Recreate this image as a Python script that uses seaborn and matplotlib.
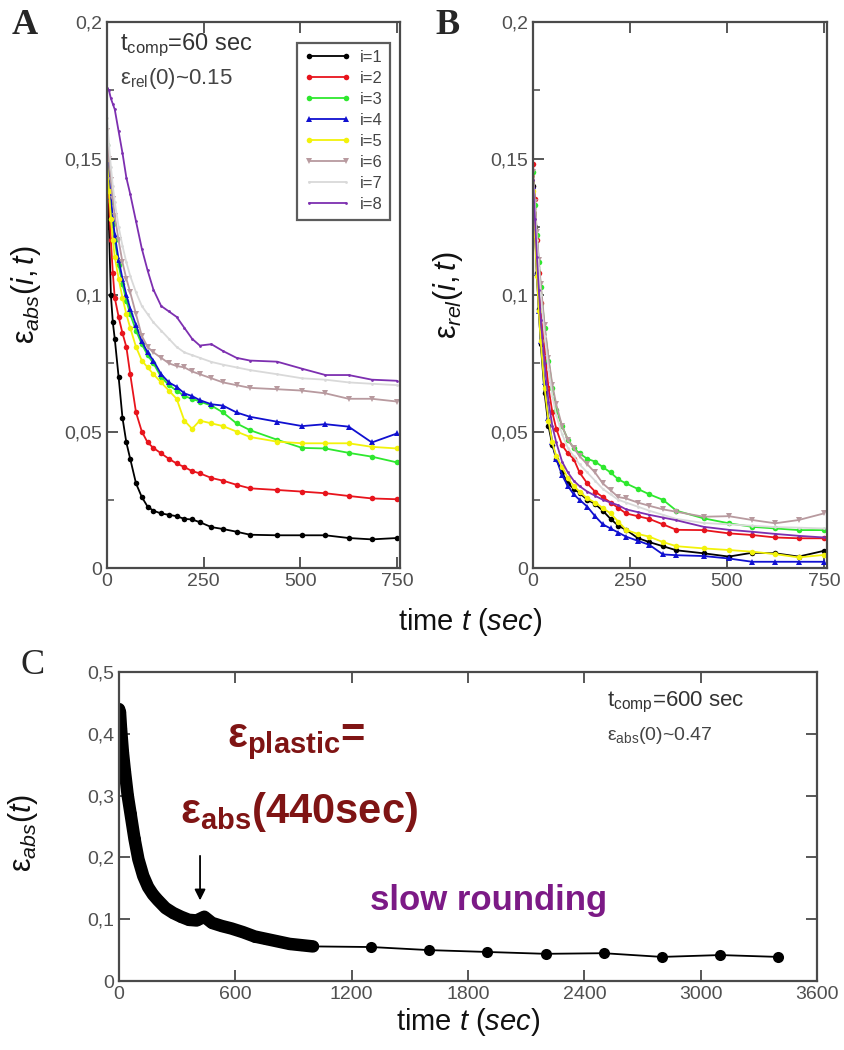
import numpy as np
import pandas as pd
import matplotlib
matplotlib.use("Agg")
import matplotlib.pyplot as plt
import seaborn as sns
from matplotlib import font_manager
from matplotlib.ticker import FuncFormatter, MultipleLocator

# temps (s) communs aux panneaux A et B
TIME = [0, 5, 10, 15, 20, 30, 40, 50, 60, 75, 90, 105, 120, 140, 160, 180, 200,
        220, 240, 270, 300, 335, 370, 440, 505, 565, 625, 685, 750]

# panneau A : eps_abs(i,t)
A_I1 = [0.150, 0.125, 0.100, 0.090, 0.084, 0.070, 0.055, 0.046, 0.040, 0.031, 0.026, 0.0225, 0.021, 0.020, 0.0195,
        0.019, 0.018, 0.0178, 0.0168, 0.015, 0.0143, 0.0133, 0.0122, 0.012, 0.012, 0.012, 0.011, 0.0105, 0.011]
A_I2 = [0.150, 0.135, 0.120, 0.108, 0.099, 0.092, 0.086, 0.081, 0.071, 0.057, 0.050, 0.046, 0.044, 0.042, 0.040,
        0.0383, 0.037, 0.0355, 0.0347, 0.033, 0.032, 0.0305, 0.0292, 0.0286, 0.028, 0.0274, 0.0264, 0.0255, 0.0252]
A_I3 = [0.155, 0.143, 0.134, 0.126, 0.120, 0.111, 0.104, 0.098, 0.093, 0.087, 0.082, 0.078, 0.075, 0.070, 0.067,
        0.065, 0.063, 0.062, 0.061, 0.0595, 0.057, 0.053, 0.0505, 0.047, 0.044, 0.0438, 0.0422, 0.0408, 0.0387]
A_I4 = [0.155, 0.145, 0.136, 0.128, 0.122, 0.113, 0.106, 0.100, 0.095, 0.089, 0.083, 0.079, 0.076, 0.071, 0.068,
        0.0664, 0.064, 0.063, 0.0615, 0.060, 0.0595, 0.057, 0.0554, 0.0536, 0.052, 0.0527, 0.0518, 0.046, 0.0493]
A_I5 = [0.150, 0.138, 0.128, 0.120, 0.114, 0.106, 0.099, 0.093, 0.088, 0.081, 0.076, 0.0735, 0.071, 0.068, 0.065,
        0.062, 0.054, 0.051, 0.054, 0.053, 0.052, 0.050, 0.048, 0.0463, 0.0457, 0.0457, 0.0457, 0.0444, 0.0438]
A_I6 = [0.160, 0.150, 0.142, 0.135, 0.129, 0.120, 0.112, 0.106, 0.101, 0.093, 0.085, 0.081, 0.079, 0.077, 0.075,
        0.074, 0.0735, 0.072, 0.071, 0.0695, 0.068, 0.067, 0.066, 0.0655, 0.065, 0.064, 0.062, 0.062, 0.061]
A_I7 = [0.165, 0.155, 0.147, 0.140, 0.134, 0.125, 0.118, 0.112, 0.107, 0.101, 0.096, 0.093, 0.090, 0.087, 0.084,
        0.081, 0.079, 0.078, 0.077, 0.0755, 0.0745, 0.0735, 0.0725, 0.071, 0.0695, 0.069, 0.068, 0.0675, 0.067]
A_I8 = [0.176, 0.175, 0.172, 0.170, 0.168, 0.160, 0.152, 0.143, 0.137, 0.127, 0.117, 0.109, 0.102, 0.096, 0.094,
        0.092, 0.088, 0.084, 0.0815, 0.082, 0.0795, 0.077, 0.076, 0.0756, 0.073, 0.0707, 0.0707, 0.069, 0.0686]

# panneau B : eps_rel(i,t)
B_I1 = [0.140, 0.125, 0.108, 0.095, 0.082, 0.064, 0.052, 0.045, 0.040, 0.035, 0.031, 0.029, 0.0275, 0.025, 0.0235,
        0.021, 0.018, 0.0155, 0.014, 0.011, 0.0095, 0.008, 0.0065, 0.0054, 0.0042, 0.0056, 0.0054, 0.0042, 0.0063]
B_I2 = [0.148, 0.135, 0.120, 0.108, 0.097, 0.080, 0.066, 0.057, 0.051, 0.045, 0.042, 0.040, 0.035, 0.031, 0.028,
        0.026, 0.024, 0.022, 0.020, 0.019, 0.018, 0.016, 0.014, 0.0139, 0.0127, 0.0121, 0.0112, 0.0109, 0.0109]
B_I3 = [0.145, 0.133, 0.122, 0.112, 0.103, 0.088, 0.076, 0.066, 0.058, 0.052, 0.047, 0.044, 0.042, 0.040, 0.039,
        0.037, 0.035, 0.0325, 0.031, 0.029, 0.027, 0.025, 0.021, 0.0182, 0.0164, 0.0151, 0.0145, 0.0139, 0.0139]
B_I4 = [0.140, 0.124, 0.108, 0.094, 0.083, 0.068, 0.055, 0.046, 0.040, 0.034, 0.030, 0.027, 0.025, 0.0225, 0.019,
        0.016, 0.0145, 0.013, 0.0115, 0.010, 0.0085, 0.005, 0.0047, 0.0044, 0.0035, 0.0023, 0.0023, 0.0023, 0.0023]
B_I5 = [0.138, 0.122, 0.107, 0.094, 0.083, 0.066, 0.054, 0.046, 0.041, 0.037, 0.033, 0.030, 0.028, 0.0255, 0.024,
        0.022, 0.020, 0.017, 0.014, 0.0125, 0.0115, 0.0095, 0.008, 0.0072, 0.0066, 0.006, 0.0051, 0.0039, 0.0048]
B_I6 = [0.145, 0.134, 0.123, 0.113, 0.104, 0.089, 0.077, 0.067, 0.060, 0.052, 0.047, 0.044, 0.041, 0.038, 0.035,
        0.031, 0.0285, 0.026, 0.0255, 0.024, 0.0228, 0.0215, 0.0206, 0.0188, 0.019, 0.0176, 0.0164, 0.0176, 0.020]
B_I7 = [0.143, 0.131, 0.120, 0.110, 0.100, 0.085, 0.073, 0.063, 0.056, 0.049, 0.044, 0.041, 0.038, 0.035, 0.032,
        0.029, 0.027, 0.025, 0.024, 0.0225, 0.021, 0.0195, 0.018, 0.0165, 0.016, 0.0155, 0.015, 0.0148, 0.0145]
B_I8 = [0.142, 0.128, 0.114, 0.102, 0.091, 0.075, 0.061, 0.052, 0.046, 0.039, 0.035, 0.032, 0.030, 0.028, 0.0265,
        0.025, 0.024, 0.023, 0.0215, 0.0205, 0.0195, 0.0185, 0.0175, 0.0151, 0.014, 0.0133, 0.0125, 0.0118, 0.0112]

# panneau C : eps_abs(t), t_comp = 600 s
C_TIME = [0, 5, 10, 20, 30, 45, 60, 80, 100, 125, 150, 175, 200, 240, 280, 320, 360, 400, 440, 480,
          530, 580, 640, 700, 760, 820, 880, 940, 1000, 1300, 1600, 1900, 2200, 2500, 2800, 3100, 3400]
C_EPS = [0.440, 0.435, 0.410, 0.370, 0.340, 0.300, 0.270, 0.230, 0.197, 0.170, 0.152, 0.140, 0.131, 0.118,
         0.110, 0.104, 0.099, 0.098, 0.104, 0.094, 0.089, 0.085, 0.079, 0.072, 0.068, 0.064, 0.060, 0.058,
         0.056, 0.055, 0.050, 0.047, 0.044, 0.045, 0.039, 0.042, 0.039]

LABELS = ["i=1", "i=2", "i=3", "i=4", "i=5", "i=6", "i=7", "i=8"]
COULEURS = ["#000000", "#e8141c", "#2ee82e", "#1010d0", "#f2f20a", "#b89a9f", "#d9d9d9", "#7d2fb0"]
MARQUEURS = ["o", "o", "o", "^", "o", "v", ".", "."]

sns.set_theme(style="ticks")
noms = {f.name for f in font_manager.fontManager.ttflist}
ETROIT = "Liberation Sans Narrow" if "Liberation Sans Narrow" in noms else "Liberation Sans"
plt.rcParams["font.family"] = [ETROIT, "DejaVu Sans"]
plt.rcParams["mathtext.fontset"] = "custom"
plt.rcParams["mathtext.rm"] = ETROIT
plt.rcParams["mathtext.it"] = ETROIT + ":italic"
plt.rcParams["mathtext.bf"] = ETROIT + ":bold"

GRIS = "#4a4a4a"
virgule = FuncFormatter(lambda v, p: ("%g" % round(v, 4)).replace(".", ","))


def long_format(series):
    return pd.DataFrame({
        "t": TIME * len(series),
        "v": np.concatenate(series),
        "i": np.repeat(LABELS, len(TIME)),
    })


def habiller(ax, xmax, ymax):
    for s in ax.spines.values():
        s.set_color(GRIS)
        s.set_linewidth(1.6)
    ax.tick_params(direction="in", length=8, width=1.3, color=GRIS, labelcolor="#505050",
                   labelsize=14, top=True, right=False)
    ax.tick_params(which="minor", direction="in", length=5, width=1.1, color=GRIS, left=True)
    ax.set_xlim(0, xmax)
    ax.set_ylim(0, ymax)
    ax.yaxis.set_major_formatter(virgule)


fig = plt.figure(figsize=(8.44, 10.5), dpi=100)
axA = fig.add_axes([0.1268, 0.459, 0.3472, 0.520])
axB = fig.add_axes([0.6315, 0.459, 0.3483, 0.520])
axC = fig.add_axes([0.141, 0.0657, 0.827, 0.2943])

pal = dict(zip(LABELS, COULEURS))
mk = dict(zip(LABELS, MARQUEURS))

dfA = long_format([A_I1, A_I2, A_I3, A_I4, A_I5, A_I6, A_I7, A_I8])
dfB = long_format([B_I1, B_I2, B_I3, B_I4, B_I5, B_I6, B_I7, B_I8])

for ax, df in [(axA, dfA), (axB, dfB)]:
    sns.lineplot(data=df, x="t", y="v", hue="i", style="i", palette=pal, markers=mk, dashes=False,
                 estimator=None, sort=False, lw=1.3, markersize=4, markeredgewidth=0, ax=ax,
                 legend=(ax is axA))
    habiller(ax, 758, 0.2)
    ax.set_xticks([0, 250, 500, 750])
    ax.set_yticks([0, 0.05, 0.1, 0.15, 0.2])
    ax.yaxis.set_minor_locator(MultipleLocator(0.025))
    ax.set_xlabel("")

h, l = axA.get_legend_handles_labels()
leg = axA.legend(h, l, loc="upper left", bbox_to_anchor=(0.648, 0.962), frameon=True, fancybox=False,
                 fontsize=12, handlelength=2.8, labelspacing=0.36, borderpad=0.45, handletextpad=0.5,
                 numpoints=2, borderaxespad=0)
leg.get_frame().set_edgecolor("#333333")
leg.get_frame().set_linewidth(1.6)
for txt in leg.get_texts():
    txt.set_color("#444444")

axA.set_ylabel(r"ε$_{abs}$$(i,t)$", fontsize=22, color="#111111")
axA.yaxis.set_label_coords(-0.22, 0.5)
axB.set_ylabel(r"ε$_{rel}$$(i,t)$", fontsize=22, color="#111111")
axB.yaxis.set_label_coords(-0.23, 0.5)

axA.text(0.045, 0.958, r"t$_{\mathregular{comp}}$=60 sec", transform=axA.transAxes, fontsize=17,
         color="#333333", va="center")
axA.text(0.045, 0.897, r"ε$_{\mathregular{rel}}$(0)~0.15", transform=axA.transAxes, fontsize=16,
         color="#444444", va="center")

fig.text(0.557, 1 - 622 / 1050, r"time $t$ $(sec)$", fontsize=21, ha="center", va="center", color="#111111")

# panneau C
sns.lineplot(x=C_TIME[:29], y=C_EPS[:29], color="black", lw=9, solid_capstyle="round", ax=axC)
sns.lineplot(x=C_TIME, y=C_EPS, color="black", lw=1.3, marker="o", markersize=8, markeredgewidth=0, ax=axC)
habiller(axC, 3600, 0.5)
axC.tick_params(right=True, labelsize=14)
for lab in axC.get_xticklabels() + axC.get_yticklabels():
    lab.set_fontfamily(["Liberation Sans", "DejaVu Sans"])
axC.set_xticks([0, 600, 1200, 1800, 2400, 3000, 3600])
axC.set_yticks([0, 0.1, 0.2, 0.3, 0.4, 0.5])
axC.set_xlabel(r"time $t$ $(sec)$", fontsize=21, color="#111111", labelpad=2)
axC.set_ylabel(r"ε$_{abs}$$(t)$", fontsize=22, color="#111111")
axC.yaxis.set_label_coords(-0.113, 0.48)

axC.text(2517, 0.451, r"t$_{\mathregular{comp}}$=600 sec", fontsize=16, color="#333333", va="center")
axC.text(2517, 0.398, r"ε$_{\mathregular{abs}}$(0)~0.47", fontsize=14, color="#444444", va="center")
axC.text(557, 0.387, r"ε$_{\mathbf{plastic}}$=", fontsize=30, color="#7f1414", va="center", fontweight="bold")
axC.text(315, 0.273, r"ε$_{\mathbf{abs}}$(440sec)", fontsize=30, color="#7f1414", va="center", fontweight="bold")
axC.text(1294, 0.131, "slow rounding", fontsize=25, color="#7c1a86", va="center", fontweight="bold")
axC.annotate("", xy=(418, 0.126), xytext=(418, 0.207),
             arrowprops=dict(arrowstyle="-|>", color="black", lw=1.3, mutation_scale=16))

fig.text(12 / 844, 1 - 25 / 1050, "A", fontsize=26, fontweight="bold", family="Liberation Serif", va="center")
fig.text(435 / 844, 1 - 25 / 1050, "B", fontsize=26, fontweight="bold", family="Liberation Serif", va="center")
fig.text(20 / 844, 1 - 665 / 1050, "C", fontsize=26, family="Liberation Serif", va="center")

fig.savefig("out.png", dpi=100)
